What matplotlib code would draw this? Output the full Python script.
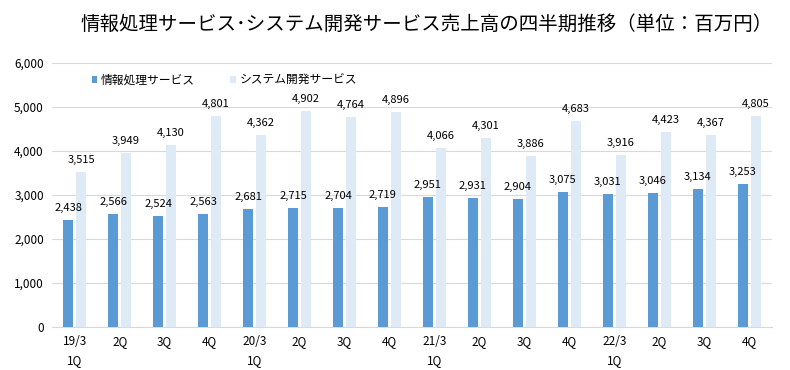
import numpy as np
import matplotlib.pyplot as plt

plt.rcParams['font.family'] = ['Noto Sans CJK JP', 'DejaVu Sans']

quarters = ['19/3\n1Q', '2Q', '3Q', '4Q', '20/3\n1Q', '2Q', '3Q', '4Q',
            '21/3\n1Q', '2Q', '3Q', '4Q', '22/3\n1Q', '2Q', '3Q', '4Q']
info = [2438, 2566, 2524, 2563, 2681, 2715, 2704, 2719,
        2951, 2931, 2904, 3075, 3031, 3046, 3134, 3253]
system = [3515, 3949, 4130, 4801, 4362, 4902, 4764, 4896,
          4066, 4301, 3886, 4683, 3916, 4423, 4367, 4805]

fig = plt.figure(figsize=(7.9, 3.7), dpi=100)
ax = fig.add_axes([0.066, 0.116, 0.911, 0.714])

x = np.arange(len(quarters))
w = 0.22
ax.bar(x - 0.145, info, w, color='#5B9BD5', label='情報処理サービス', zorder=3)
ax.bar(x + 0.145, system, w, color='#DEEBF7', label='システム開発サービス', zorder=3)

for xi, v in zip(x, info):
    ax.annotate(f'{v:,}', (xi - 0.145, v), xytext=(0, 5), textcoords='offset points',
                ha='center', va='bottom', fontsize=8)
for xi, v in zip(x, system):
    ax.annotate(f'{v:,}', (xi + 0.145, v), xytext=(0, 5), textcoords='offset points',
                ha='center', va='bottom', fontsize=8)

ax.set_xlim(-0.5, len(quarters) - 0.5)
ax.set_ylim(0, 6000)
ax.set_yticks(range(0, 6001, 1000))
ax.set_yticklabels([f'{v:,}' for v in range(0, 6001, 1000)], fontsize=8.5)
ax.set_xticks(x)
ax.set_xticklabels(quarters, fontsize=8.5, linespacing=1.6)
ax.tick_params(length=0, pad=6)
ax.grid(axis='y', color='#D9D9D9', lw=0.8, zorder=0)
for s in ['top', 'right', 'left']:
    ax.spines[s].set_visible(False)
ax.spines['bottom'].set_color('#D9D9D9')

ax.legend(loc='upper left', bbox_to_anchor=(0.04, 1.0), ncol=2, frameon=False,
          fontsize=8.5, handlelength=0.5, handleheight=0.5, handletextpad=0.3,
          columnspacing=3)

fig.text(0.54, 0.935, '情報処理サービス･システム開発サービス売上高の四半期推移（単位：百万円）',
         ha='center', va='center', fontsize=14)

fig.savefig('out.png')
